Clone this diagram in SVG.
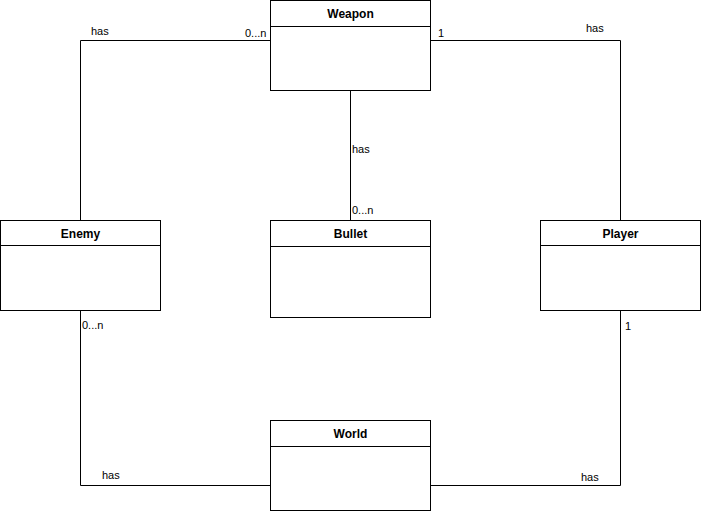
<svg xmlns="http://www.w3.org/2000/svg" width="702" height="514" viewBox="0 0 702 514">
<style>
.box{fill:#fff;stroke:#000;stroke-width:1}
.title{font-family:"Liberation Sans",Arial,sans-serif;font-size:12px;font-weight:bold;text-anchor:middle;fill:#000}
.lbl{font-family:"Liberation Sans",Arial,sans-serif;font-size:11px;fill:#000}
.edge{fill:none;stroke:#000;stroke-width:1}
</style>
<rect width="702" height="514" fill="#fff"/>
<g id="connectors">
<polyline class="edge" points="270.5,40.5 80.5,40.5 80.5,220.5"/>
<polyline class="edge" points="430.5,40.5 620.5,40.5 620.5,220.5"/>
<line class="edge" x1="350.5" y1="90.5" x2="350.5" y2="220.5"/>
<polyline class="edge" points="80.5,310.5 80.5,485.5 270.5,485.5"/>
<polyline class="edge" points="620.5,310.5 620.5,485.5 430.5,485.5"/>
<text class="lbl" x="91" y="35">has</text>
<text class="lbl" x="245" y="37">0...n</text>
<text class="lbl" x="438" y="37">1</text>
<text class="lbl" x="586" y="32">has</text>
<text class="lbl" x="352" y="153">has</text>
<text class="lbl" x="352" y="214">0...n</text>
<text class="lbl" x="82" y="329">0...n</text>
<text class="lbl" x="102" y="479">has</text>
<text class="lbl" x="625" y="330">1</text>
<text class="lbl" x="581" y="481">has</text>
</g>
<g id="weapon">
<rect class="box" x="270.5" y="0.5" width="160" height="90"/>
<line class="edge" x1="270.5" y1="26.5" x2="430.5" y2="26.5"/>
<text class="title" x="350.5" y="18">Weapon</text>
</g>
<g id="enemy">
<rect class="box" x="0.5" y="220.5" width="160" height="90"/>
<line class="edge" x1="0.5" y1="245.5" x2="160.5" y2="245.5"/>
<text class="title" x="80.5" y="238">Enemy</text>
</g>
<g id="bullet">
<rect class="box" x="270.5" y="220.5" width="160" height="97"/>
<line class="edge" x1="270.5" y1="246.5" x2="430.5" y2="246.5"/>
<text class="title" x="350.5" y="238">Bullet</text>
</g>
<g id="player">
<rect class="box" x="540.5" y="220.5" width="160" height="90"/>
<line class="edge" x1="540.5" y1="245.5" x2="700.5" y2="245.5"/>
<text class="title" x="620.5" y="238">Player</text>
</g>
<g id="world">
<rect class="box" x="270.5" y="420.5" width="160" height="90"/>
<line class="edge" x1="270.5" y1="446.5" x2="430.5" y2="446.5"/>
<text class="title" x="350.5" y="438">World</text>
</g>
</svg>
